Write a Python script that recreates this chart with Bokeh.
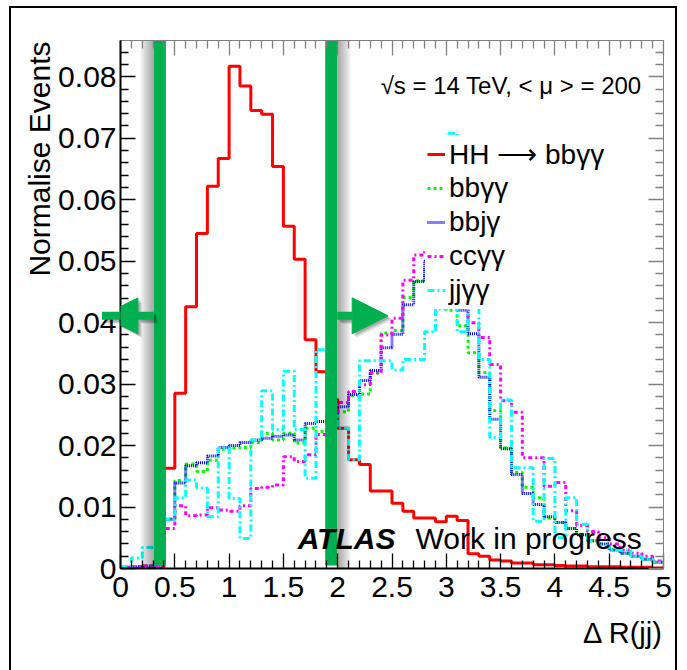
from bokeh.plotting import figure
from bokeh.models import (Range1d, FixedTicker, LinearAxis, Label, Legend, LegendItem,
                          Arrow, NormalHead, Title, InlineStyleSheet)
from bokeh.embed import file_html
from bokeh.resources import INLINE

# ---------------- data ----------------
bin_edges = [0.0, 0.1, 0.2, 0.3, 0.4, 0.5, 0.6, 0.7, 0.8, 0.9,
             1.0, 1.1, 1.2, 1.3, 1.4, 1.5, 1.6, 1.7, 1.8, 1.9,
             2.0, 2.1, 2.2, 2.3, 2.4, 2.5, 2.6, 2.7, 2.8, 2.9,
             3.0, 3.1, 3.2, 3.3, 3.4, 3.5, 3.6, 3.7, 3.8, 3.9,
             4.0, 4.1, 4.2, 4.3, 4.4, 4.5, 4.6, 4.7, 4.8, 4.9, 5.0]

hh_bbyy = [0, 0, 0, 0, 0.0163, 0.0285, 0.0426, 0.0545, 0.0622, 0.0667,
           0.0817, 0.0785, 0.0745, 0.0739, 0.0654, 0.0557, 0.0503, 0.0372, 0.0320, 0.0275,
           0.0228, 0.0177, 0.0169, 0.0126, 0.0126, 0.0106, 0.0093, 0.0082, 0.0082, 0.0076,
           0.0085, 0.0078, 0.0024, 0.0020, 0.0014, 0.0012, 0.0009, 0.0009, 0.0006, 0.0006,
           0.0005, 0.0004, 0.0004, 0.0003, 0.0003, 0.0003, 0.0002, 0.0002, 0.0002, 0.0001]

bbyy = [0.0002, 0.0003, 0.0004, 0.0005, 0.0080, 0.0143, 0.0170, 0.0158, 0.0176, 0.0194,
        0.0196, 0.0197, 0.0205, 0.0220, 0.0209, 0.0220, 0.0204, 0.0228, 0.0223, 0.0240,
        0.0255, 0.0281, 0.0284, 0.0318, 0.0383, 0.0387, 0.0441, 0.0468, 0.0490, 0.0480,
        0.0420, 0.0395, 0.0351, 0.0319, 0.0257, 0.0196, 0.0156, 0.0132, 0.0115, 0.0082,
        0.0075, 0.0065, 0.0055, 0.0045, 0.0040, 0.0030, 0.0025, 0.0020, 0.0015, 0.0010]

bbjy = [0.0002, 0.0003, 0.0004, 0.0005, 0.0080, 0.0139, 0.0167, 0.0172, 0.0183, 0.0197,
        0.0200, 0.0205, 0.0209, 0.0212, 0.0215, 0.0217, 0.0209, 0.0236, 0.0239, 0.0250,
        0.0263, 0.0283, 0.0306, 0.0322, 0.0359, 0.0381, 0.0429, 0.0467, 0.0500, 0.0490,
        0.0440, 0.0420, 0.0382, 0.0311, 0.0243, 0.0195, 0.0153, 0.0122, 0.0104, 0.0084,
        0.0075, 0.0065, 0.0055, 0.0045, 0.0040, 0.0030, 0.0025, 0.0020, 0.0015, 0.0010]

ccyy = [0.0002, 0.0003, 0.0004, 0.0005, 0.0065, 0.0102, 0.0086, 0.0087, 0.0099, 0.0095,
        0.0093, 0.0102, 0.0130, 0.0132, 0.0136, 0.0182, 0.0174, 0.0185, 0.0218, 0.0250,
        0.0270, 0.0288, 0.0299, 0.0318, 0.0380, 0.0407, 0.0469, 0.0510, 0.0520, 0.0500,
        0.0460, 0.0430, 0.0400, 0.0376, 0.0332, 0.0273, 0.0254, 0.0180, 0.0180, 0.0134,
        0.0140, 0.0094, 0.0070, 0.0060, 0.0050, 0.0040, 0.0030, 0.0025, 0.0020, 0.0012]

jjyy = [0.0003, 0.0017, 0.0034, 0.0034, 0.0080, 0.0115, 0.0144, 0.0131, 0.0084, 0.0196,
        0.0114, 0.0049, 0.0209, 0.0289, 0.0226, 0.0321, 0.0226, 0.0147, 0.0356, 0.0250,
        0.0228, 0.0177, 0.0338, 0.0338, 0.0338, 0.0323, 0.0340, 0.0340, 0.0385, 0.0422,
        0.0708, 0.0385, 0.0450, 0.0340, 0.0213, 0.0274, 0.0164, 0.0164, 0.0077, 0.0179,
        0.0050, 0.0115, 0.0072, 0.0045, 0.0037, 0.0030, 0.0030, 0.0020, 0.0015, 0.0010]

series_labels = ["HH \u27f6 bb\u03b3\u03b3", "bb\u03b3\u03b3", "bbj\u03b3", "cc\u03b3\u03b3", "jj\u03b3\u03b3"]

x_ticks = [0, 0.5, 1, 1.5, 2, 2.5, 3, 3.5, 4, 4.5, 5]
x_tick_labels = ["0", "0.5", "1", "1.5", "2", "2.5", "3", "3.5", "4", "4.5", "5"]
x_minor = [0.1, 0.2, 0.3, 0.4, 0.6, 0.7, 0.8, 0.9, 1.1, 1.2, 1.3, 1.4, 1.6, 1.7, 1.8, 1.9,
           2.1, 2.2, 2.3, 2.4, 2.6, 2.7, 2.8, 2.9, 3.1, 3.2, 3.3, 3.4, 3.6, 3.7, 3.8, 3.9,
           4.1, 4.2, 4.3, 4.4, 4.6, 4.7, 4.8, 4.9]
y_ticks = [0, 0.01, 0.02, 0.03, 0.04, 0.05, 0.06, 0.07, 0.08]
y_tick_labels = ["0", "0.01", "0.02", "0.03", "0.04", "0.05", "0.06", "0.07", "0.08"]
y_minor = [0.002, 0.004, 0.006, 0.008, 0.012, 0.014, 0.016, 0.018, 0.022, 0.024, 0.026, 0.028,
           0.032, 0.034, 0.036, 0.038, 0.042, 0.044, 0.046, 0.048, 0.052, 0.054, 0.056, 0.058,
           0.062, 0.064, 0.066, 0.068, 0.072, 0.074, 0.076, 0.078, 0.082, 0.084]

cut_positions = [0.363, 1.94]

FONT = "Liberation Sans"
GREEN = "#00b050"
PX = 5.0 / 543.0       # data units per screen pixel on x
PY = 0.0859 / 528.0    # data units per screen pixel on y

border_css = InlineStyleSheet(css="""
:host { position: relative; }
:host::after {
  content: ''; position: absolute; left: 9px; top: 6px; width: 668px; height: 680px;
  border: 2px solid black; box-sizing: border-box; pointer-events: none; z-index: 10;
}
""")

p = figure(width=687, height=670, x_range=Range1d(0, 5), y_range=Range1d(0, 0.0859),
           output_backend="svg", toolbar_location=None,
           min_border_left=120, min_border_right=24, min_border_top=40, min_border_bottom=102,
           stylesheets=[border_css])
p.xgrid.visible = False
p.ygrid.visible = False
p.outline_line_color = "#808080"
p.outline_line_width = 1
p.background_fill_color = "white"
p.border_fill_color = "white"

xt = FixedTicker(ticks=x_ticks, minor_ticks=x_minor)
yt = FixedTicker(ticks=y_ticks, minor_ticks=y_minor)


def style_axis(ax, ticker, labels=None, color="black", width=2):
    ax.ticker = ticker
    ax.major_tick_in = 15
    ax.major_tick_out = 0
    ax.minor_tick_in = 8
    ax.minor_tick_out = 0
    ax.axis_line_color = color
    ax.axis_line_width = width
    ax.major_tick_line_color = color
    ax.minor_tick_line_color = color
    ax.major_tick_line_width = 1.3
    ax.minor_tick_line_width = 1.3
    ax.major_label_text_font = FONT
    ax.major_label_text_font_style = "normal"
    ax.major_label_text_color = "black"
    ax.major_label_text_font_size = "30px"
    if labels is None:
        ax.major_label_overrides = {t: "" for t in ticker.ticks}
        ax.major_label_standoff = 0
    else:
        ax.major_label_overrides = {t: l for t, l in zip(ticker.ticks, labels)}


style_axis(p.xaxis[0], xt, x_tick_labels)
p.xaxis[0].major_label_standoff = 8
style_axis(p.yaxis[0], yt, y_tick_labels)
p.yaxis[0].major_label_standoff = 4

top_ax = LinearAxis()
style_axis(top_ax, xt, None, color="#808080", width=1)
p.add_layout(top_ax, "above")
right_ax = LinearAxis()
style_axis(right_ax, yt, None, color="#808080", width=1)
p.add_layout(right_ax, "right")

# axis titles (ROOT style: at the end of the axis)
p.add_layout(Title(text="Normalise Events", align="right", offset=1, standoff=0,
                   text_font=FONT, text_font_size="30px", text_font_style="normal",
                   text_color="black"), "left")
p.add_layout(Title(text="\u0394 R(jj)", align="right", standoff=30,
                   text_font=FONT, text_font_size="29px", text_font_style="normal",
                   text_color="black"), "below")

# ---------------- histograms ----------------
styles = [
    (hh_bbyy, "#ff0000", "solid", 3),
    (bbyy, "#00ff00", "3 3", 3),
    (bbjy, "#0000ff", "1 1", 3),
    (ccyy, "#ff00ff", "4 3 2 3", 3),
    (jjyy, "#00ffff", "7 3 2 3", 3),
]
items = []
for (vals, col, dash, lw), lab in zip(styles, series_labels):
    r = p.step(x=bin_edges, y=vals + [vals[-1]], mode="after", line_color=col,
               line_width=lw, line_dash=dash)
    items.append(LegendItem(label=lab, renderers=[r]))

# ---------------- cut bars with shadows ----------------
half = 6 * PX
for cx, side in zip(cut_positions, [-1, 1]):
    for k in range(1, 15):
        if side < 0:
            l, rr = cx - half - k * PX, cx - half
        else:
            l, rr = cx + half, cx + half + k * PX
        p.quad(left=l, right=rr, bottom=0.0, top=0.0865, fill_color="black",
               fill_alpha=0.028, line_alpha=0)
    p.quad(left=cx - half, right=cx + half, bottom=0.0005, top=0.0865,
           fill_color=GREEN, line_alpha=0)

arrow_y = 0.0411
arrow_defs = [
    (cut_positions[0] - half, cut_positions[0] - half - 52 * PX),
    (cut_positions[1] + half, cut_positions[1] + half + 51 * PX),
]
# soft shadows under the arrows
for xs, xe in arrow_defs:
    for off, a in [(4, 0.10), (3, 0.12), (2, 0.14)]:
        p.add_layout(Arrow(end=NormalHead(size=36, fill_color="black", fill_alpha=a,
                                          line_alpha=0),
                           x_start=xs + off * PX, y_start=arrow_y - off * PY,
                           x_end=xe + off * PX, y_end=arrow_y - off * PY,
                           line_color="black", line_alpha=a, line_width=8))
for xs, xe in arrow_defs:
    p.add_layout(Arrow(end=NormalHead(size=36, fill_color=GREEN, line_color=GREEN, line_width=1),
                       x_start=xs, y_start=arrow_y, x_end=xe, y_end=arrow_y,
                       line_color=GREEN, line_width=8))

# ---------------- legend ----------------
legend = Legend(items=items, location=(305, 259),
                background_fill_color="white", background_fill_alpha=1.0,
                border_line_alpha=0, padding=2, margin=0, spacing=0,
                label_height=34, glyph_height=34, glyph_width=18, label_standoff=4,
                label_text_font=FONT, label_text_font_size="28px", label_text_color="black")
p.add_layout(legend)

# ---------------- texts ----------------
p.add_layout(Label(x=4.86, y=0.0786, text="\u221as = 14 TeV, <  \u03bc > = 200",
                   text_align="right", text_baseline="alphabetic",
                   text_font=FONT, text_font_size="24px", text_color="black"))
p.add_layout(Label(x=1.631, y=0.0048, text="ATLAS", text_font=FONT,
                   text_font_style="bold italic", text_font_size="30px",
                   text_baseline="alphabetic", text_color="black"))
p.add_layout(Label(x=2.716, y=0.0048, text="Work in progress", text_font=FONT,
                   text_font_size="30px", text_baseline="alphabetic", text_color="black"))

open("out.html", "w").write(file_html(p, INLINE))
